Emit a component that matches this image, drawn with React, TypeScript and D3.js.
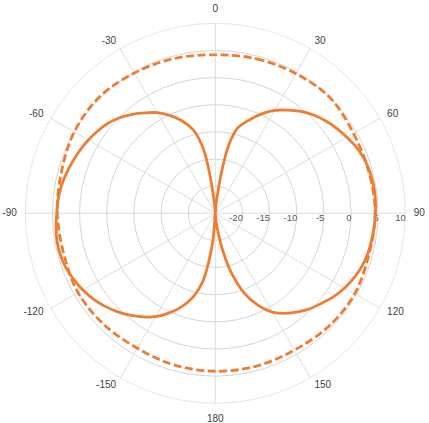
import React from 'react';
import * as d3 from 'd3';

// Angle labels (degrees, clockwise from top)
const angleTickValues = [0, 30, 60, 90, 120, 150, 180, 210, 240, 270, 300, 330];
const angleTickLabels = ['0', '30', '60', '90', '120', '150', '180', '-150', '-120', '-90', '-60', '-30'];

// Radial ticks (dB)
const radialTicks = [-20, -15, -10, -5, 0, 5, 10];

// Solid series (angles in degrees)
const solidAngles = [
  0, 5, 10, 12.5, 15, 20, 25, 30, 35, 40, 45, 50, 55, 60, 65, 70, 75, 80, 85,
  90, 95, 100, 105, 110, 115, 120, 125, 130, 135, 140, 145, 150, 155, 160, 165, 167.5, 170, 175,
  180, 185, 190, 192.5, 195, 200, 205, 210, 215, 220, 225, 230, 235, 240, 245, 250, 255, 260, 265,
  270, 275, 280, 285, 290, 295, 300, 305, 310, 315, 320, 325, 330, 335, 340, 345, 347.5, 350, 355,
];
const solidValues = [
  -25, -23, -14.2, -10.6, -8.6, -6.7, -4.8, -3.1, -1.8, -0.5, 0.6, 1.5, 2.3, 3.0, 3.7, 4.2, 4.5, 4.6, 4.6,
  4.5, 4.35, 4.2, 4.05, 3.7, 3.2, 2.5, 1.7, 0.7, -0.2, -1.3, -2.5, -4.0, -6.3, -9.3, -13.8, -16.5, -19.5, -23.5,
  -25, -20, -12.6, -10.6, -9.0, -6.6, -4.7, -3.0, -1.7, -0.5, 0.6, 1.6, 2.5, 3.2, 3.8, 4.3, 4.55, 4.6, 4.45,
  4.2, 4.05, 3.8, 3.4, 2.95, 2.5, 2.0, 1.45, 0.8, -0.1, -1.2, -2.4, -3.6, -5.1, -6.8, -9.0, -10.8, -13.6, -23,
];

// Dashed series (angles in degrees)
const dashedAngles = [0, 15, 30, 45, 60, 75, 90, 105, 120, 135, 150, 165, 180, 195, 210, 225, 240, 255, 270, 285, 300, 315, 330, 345];
const dashedValues = [4.2, 4.45, 4.7, 5.0, 4.4, 4.3, 4.45, 4.3, 4.65, 4.5, 4.1, 4.15, 4.1, 3.95, 3.7, 4.0, 4.2, 3.9, 4.1, 4.35, 5.0, 5.25, 4.85, 4.5];

const W = 429;
const H = 423;
const cx = 215.3;
const cy = 213.3;
const R = 190;
const ORANGE = '#ED7D31';
const FONT = '"Liberation Sans", Arial, sans-serif';

export default function App() {
  const r = d3.scaleLinear().domain([-25, 10]).range([0, R]).clamp(true);
  const toRad = (deg: number) => (deg * Math.PI) / 180;

  const line = d3
    .lineRadial<[number, number]>()
    .angle((d) => toRad(d[0]))
    .radius((d) => r(d[1]))
    .curve(d3.curveCatmullRomClosed.alpha(0.5));

  const solidPath = line(solidAngles.map((a, i) => [a, solidValues[i]] as [number, number])) || '';
  const dashedPath = line(dashedAngles.map((a, i) => [a, dashedValues[i]] as [number, number])) || '';

  const labelR = 198.4;

  return (
    <svg
      width={W}
      height={H}
      style={{ position: 'absolute', left: 0, top: 0, background: '#fff' }}
      fontFamily={FONT}
    >
      <rect x={0} y={0} width={W} height={H} fill="#fff" />
      <g transform={`translate(${cx},${cy})`}>
        {radialTicks.map((t) => (
          <circle
            key={t}
            r={r(t)}
            fill="none"
            stroke={t === 10 ? '#dedede' : '#cfcfcf'}
            strokeWidth={t === 10 ? 0.8 : 0.9}
          />
        ))}
        {angleTickValues.map((a) => (
          <line
            key={a}
            x1={0}
            y1={0}
            x2={R * Math.sin(toRad(a))}
            y2={-R * Math.cos(toRad(a))}
            stroke="#d9d9d9"
            strokeWidth={0.9}
          />
        ))}
        {radialTicks.map((t) => (
          <text
            key={'rl' + t}
            x={r(t) + 0.5}
            y={8}
            textAnchor="end"
            fontSize={9.5}
            fill="#595959"
          >
            {t}
          </text>
        ))}
        {angleTickValues.map((a, i) => {
          const s = Math.sin(toRad(a));
          const c = Math.cos(toRad(a));
          const px = labelR * s;
          const py = -labelR * c;
          const anchor = s > 0.01 ? 'start' : s < -0.01 ? 'end' : 'middle';
          const dy = Math.abs(s) < 0.01 ? (c > 0 ? -6.8 : 6.4) : -1;
          return (
            <text
              key={'al' + a}
              x={px}
              y={py + dy}
              textAnchor={anchor}
              dominantBaseline="central"
              fontSize={10}
              fill="#404040"
            >
              {angleTickLabels[i]}
            </text>
          );
        })}
        <path d={dashedPath} fill="none" stroke={ORANGE} strokeWidth={2.8} strokeDasharray="8,3.5" />
        <path d={solidPath} fill="none" stroke={ORANGE} strokeWidth={2.8} strokeLinejoin="round" />
      </g>
    </svg>
  );
}
